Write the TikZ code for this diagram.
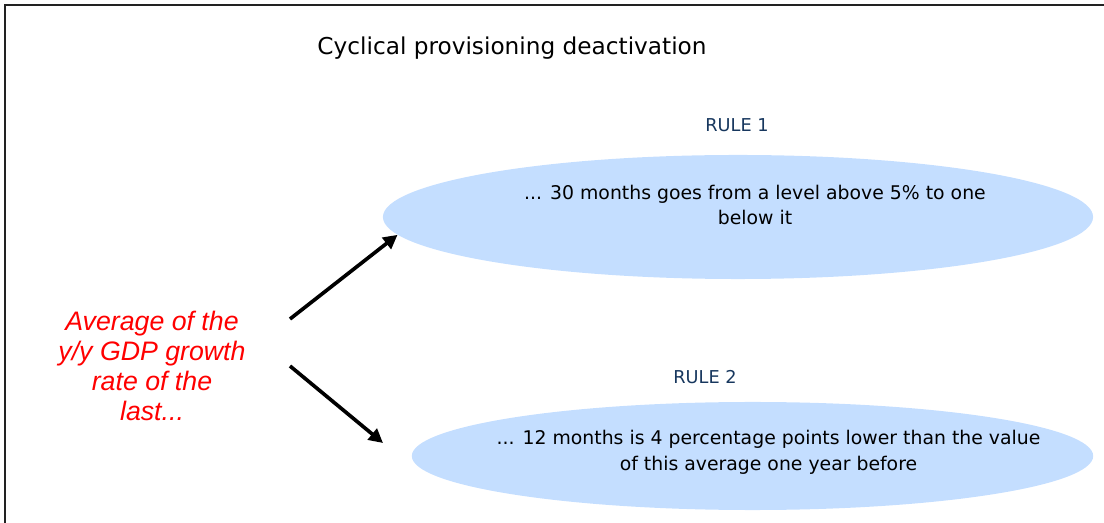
\documentclass[tikz,border=0pt]{standalone}
\usepackage{fontspec}
\setmainfont{DejaVu Sans}
\newfontfamily\arialfont{Liberation Sans}
\usepackage{tikz}
\usetikzlibrary{calc,shapes.geometric,arrows.meta}
\definecolor{celeste}{HTML}{C4DEFF}
\definecolor{blunotte}{HTML}{17375E}
\definecolor{rosso}{HTML}{FF0000}
\definecolor{cornice}{HTML}{222222}

\begin{document}
\begin{tikzpicture}[x=0.025cm, y=-0.025cm,
  bolla/.style={ellipse, fill=celeste, inner sep=0pt},
  testo/.style={align=center, font=\fontsize{13.4}{18.4}\selectfont},
  regola/.style={blunotte, font=\fontsize{12.6}{15}\selectfont},
  freccia/.style={line width=2.6pt, -{Triangle[length=10pt,width=10pt]}}]
  \useasboundingbox (0,0) rectangle (1104,523);

  % Cornice
  \draw[cornice, line width=1.5pt] (5,523) -- (5,5) -- (1104,5);

  % Titolo
  \node[font=\fontsize{16.5}{20}\selectfont] (title) at (512,48)
    {Cyclical provisioning deactivation};

  % Bolle delle regole
  \node[bolla, minimum width=17.75cm, minimum height=3.1cm] (ellone) at (738,217) {};
  \node[bolla, minimum width=17.03cm, minimum height=2.7cm] (elltwo) at (752.5,456) {};

  % Etichette regole
  \node[regola] (rule1) at (737,125) {RULE 1};
  \node[regola] (rule2) at (705,377) {RULE 2};

  % Testi nelle bolle
  \node[testo] (txtone) at ($(ellone.center)+(17,-12)$)
    {... 30 months goes from a level above 5\% to one\\below it};
  \node[testo] (txttwo) at ($(elltwo.center)+(16,-4)$)
    {... 12 months is 4 percentage points lower than the value\\of this average one year before};

  % Testo rosso
  \node[rosso, align=center, font=\arialfont\itshape\fontsize{19}{21.5}\selectfont]
    (avg) at (152,366) {Average of the\\y/y GDP growth\\rate of the\\last...};

  % Frecce
  \coordinate (upstart) at (290,319);
  \coordinate (dnstart) at (290,366);
  \coordinate (dntip) at (383,443);
  \draw[freccia] (upstart) -- (ellone.183);
  \draw[freccia] (dnstart) -- (dntip);
\end{tikzpicture}
\end{document}
